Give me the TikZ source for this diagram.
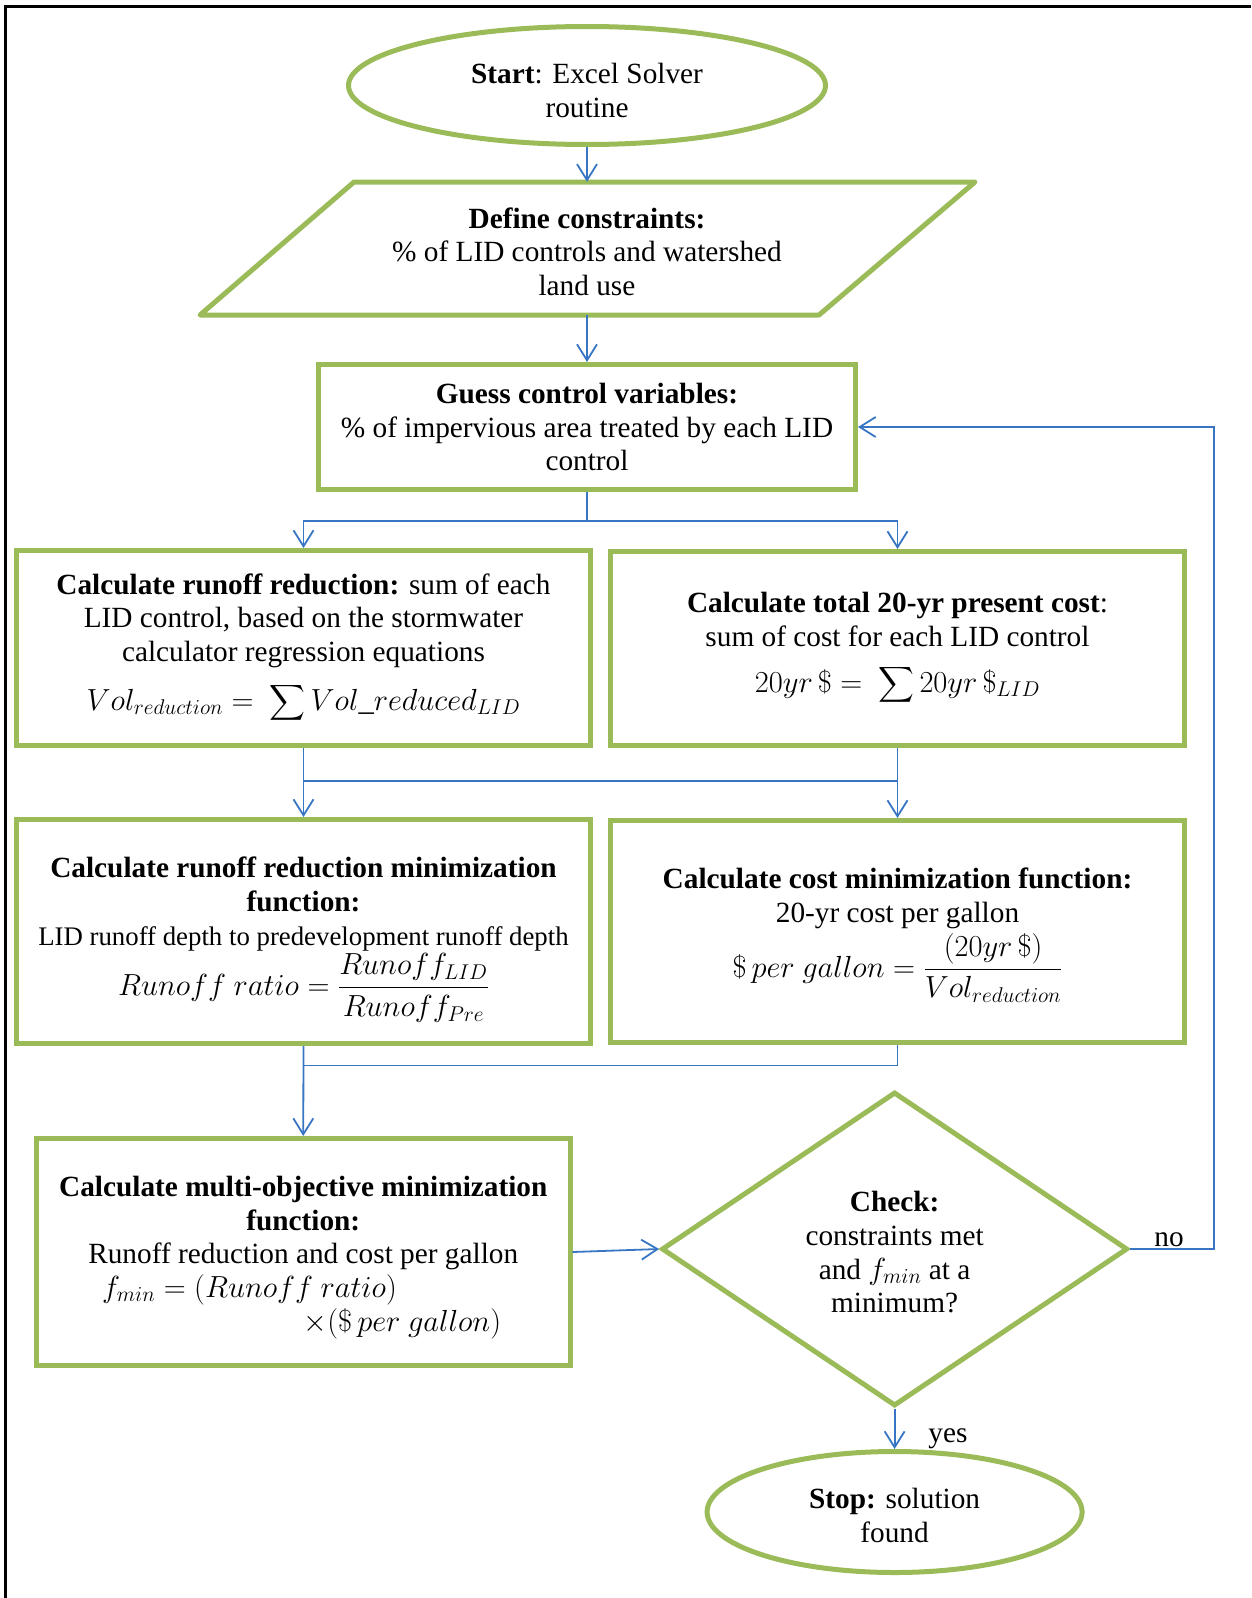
\documentclass[tikz,border=0pt]{standalone}
\usepackage{fix-cm}
\usepackage{amsmath}
\usepackage{fontspec}
\setmainfont{Liberation Serif}
\usetikzlibrary{shapes.geometric,arrows.meta}
\definecolor{grn}{HTML}{9BBB59}
\definecolor{blu}{RGB}{56,118,196}
\newcommand{\mth}[1]{{\fontsize{30.5}{35}\selectfont$#1$}}
\tikzset{
  base/.style={font=\fontsize{29.3}{33.7}\selectfont, align=center, inner sep=0pt},
  box/.style={base, draw=grn, line width=5pt, rectangle},
  term/.style={base, ellipse, draw=grn, line width=5pt},
  arr/.style={draw=blu, line width=1.8pt, -{Straight Barb[length=16pt,width=20pt,line width=1.8pt]}},
  ln/.style={draw=blu, line width=1.8pt},
}
\begin{document}
\begin{tikzpicture}[x=1pt,y=-1pt]
\useasboundingbox (0,0) rectangle (1251,1598);
\draw[line width=3pt] (5.5,1598) -- (5.5,6.5) -- (1251,6.5);

% start
\node[term, minimum width=477, minimum height=118] (start) at (587,85.5) {};
\node[base] (starttext) at (587,90.5) {\textbf{Start}: Excel Solver\\routine};

% define constraints (parallelogram)
\draw[grn, line width=5pt, line join=round] (354,182) -- (975,182) -- (819,315) -- (200,315) -- cycle;
\node[base, minimum width=460, minimum height=133] (def) at (587,248.5)
  {\rule{0pt}{27pt}\textbf{Define constraints:}\\\% of LID controls and watershed\\land use};

% guess
\node[box, minimum width=537, minimum height=125] (guess) at (587,427)
  {\textbf{Guess control variables:}\\\% of impervious area treated by each LID\\control};

% A and B
\node[box, minimum width=574, minimum height=195] (A) at (303.5,648)
  {\textbf{Calculate runoff reduction:} sum of each\\LID control, based on the stormwater\\calculator regression equations\\[14pt]
   \mth{Vol_{reduction} = \ \displaystyle\sum Vol\_reduced_{LID}}};
\node[box, minimum width=574, minimum height=194] (B) at (897.5,648.5)
  {\textbf{Calculate total 20-yr present cost}:\\sum of cost for each LID control\\[12pt]
   \mth{20yr\,\$ = \ \displaystyle\sum 20yr\,\$_{LID}}};

% C and D
\node[box, minimum width=574, minimum height=224] (C) at (303.5,931.5)
  {\rule{0pt}{37pt}\textbf{Calculate runoff reduction minimization}\\\textbf{function:}\\{\fontsize{26.8}{30}\selectfont LID runoff depth to predevelopment runoff depth}\\[2pt]
   \mth{Runoff\ ratio = \dfrac{Runoff_{LID}}{Runoff_{Pre}}}};
\node[box, minimum width=574, minimum height=222] (D) at (897.5,931.5)
  {\rule{0pt}{28pt}\textbf{Calculate cost minimization function:}\\20-yr cost per gallon\\[4pt]
   \mth{\$\,per\ gallon = \dfrac{(20yr\,\$)}{Vol_{reduction}}}};

% E
\node[box, minimum width=533.5, minimum height=227] (E) at (303.25,1252)
  {\rule{0pt}{31pt}\textbf{Calculate multi-objective minimization}\\\textbf{function:}\\Runoff reduction and cost per gallon\\
   \makebox[460pt][l]{\hspace*{29pt}\mth{f_{min} = (Runoff\ ratio)}}\\
   \makebox[460pt][r]{\mth{\times(\$\,per\ gallon)}\hspace*{32pt}}};

% check
\node[base, diamond, draw=grn, line width=5pt, minimum width=466, minimum height=314] (check) at (894.6,1249)
  {\rule{0pt}{27pt}\textbf{Check:}\\constraints met\\and \mth{f_{min}} at a\\minimum?};

% stop
\node[term, minimum width=375, minimum height=121] (stop) at (894.6,1512)
  {\rule{0pt}{27pt}\textbf{Stop:} solution\\found};

% connectors
\draw[arr] (start.south) -- (def.north);
\draw[arr] (def.south) -- (guess.north);
\coordinate (s1) at (587,520.6);
\draw[ln] (guess.south) -- (s1);
\draw[arr] (s1) -| (A.north);
\draw[arr] (s1) -| (B.north);
\draw[arr] (A.south) -- (C.north);
\draw[arr] (B.south) -- (D.north);
\coordinate (m1) at (303.5,781);
\coordinate (m2) at (897.5,781);
\draw[ln] (m1) -- (m2);
\draw[arr] (C.south) -- (E.north);
\coordinate (m3) at (897.5,1065.5);
\coordinate (m4) at (303.5,1065.5);
\draw[ln] (D.south) -- (m3) -- (m4);
\draw[arr] (E.east) -- (check.west);
\coordinate (nr) at (1214,1249);
\draw[arr] (check.east) -- (nr) |- (guess.east);
\draw[arr] (check.south) -- (stop.north);
\node[base, anchor=base] (no) at (1169,1246.5) {no};
\node[base, anchor=base] (yes) at (948,1442.5) {yes};
\end{tikzpicture}
\end{document}
